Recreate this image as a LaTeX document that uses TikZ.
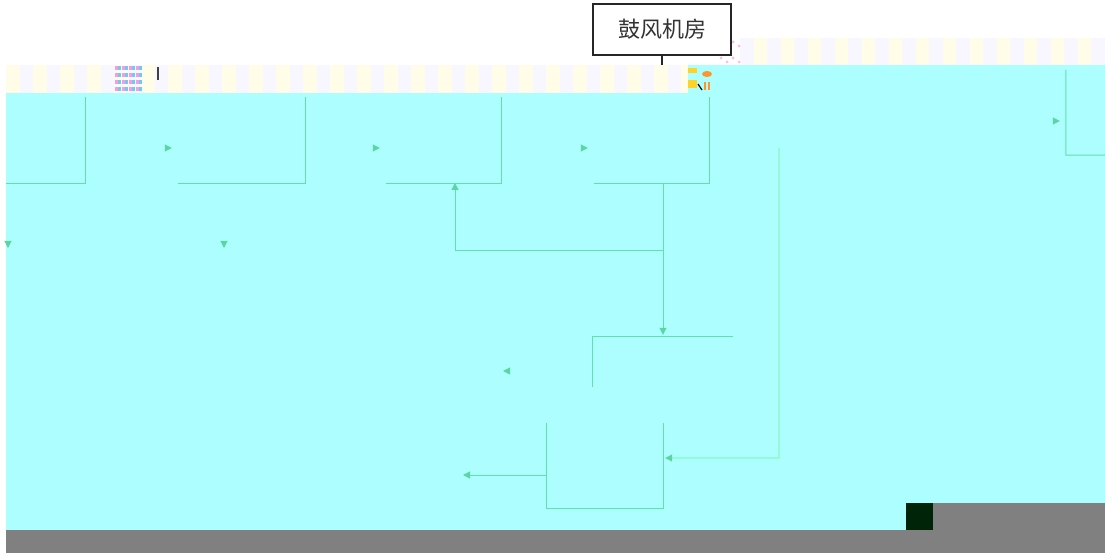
\documentclass[tikz,border=0pt]{standalone}
\usepackage{fontspec}
\newfontfamily\cjk{Noto Sans CJK SC}
\usetikzlibrary{arrows.meta}
\definecolor{cyanbg}{RGB}{173,255,255}
\definecolor{linegreen}{RGB}{100,222,170}
\definecolor{paleline}{RGB}{150,250,215}
\definecolor{tipgreen}{RGB}{90,215,160}
\definecolor{stripA}{RGB}{255,253,232}
\definecolor{stripB}{RGB}{248,247,255}
\definecolor{barGray}{RGB}{128,128,128}
\definecolor{darkSq}{RGB}{0,36,8}
\definecolor{pinkDot}{RGB}{255,150,230}
\definecolor{iconYel}{RGB}{255,210,40}
\definecolor{iconOr}{RGB}{255,150,40}
\tikzset{
  pbox/.style={rectangle, draw=none, inner sep=0pt},
  side/.style={draw=linegreen, line width=1pt},
  conn/.style={draw=linegreen, line width=1pt, -{Triangle[length=7pt,width=7pt,fill=tipgreen,color=tipgreen]}},
  paleconn/.style={draw=paleline, line width=1.2pt, -{Triangle[length=7pt,width=7pt,fill=tipgreen,color=tipgreen]}},
  ghost/.style={draw=cyanbg, line width=1pt, -{Triangle[length=7pt,width=7pt,fill=tipgreen,color=tipgreen]}},
  titlebox/.style={rectangle, draw=black!85, line width=1.3pt, fill=white, minimum width=138pt, minimum height=51pt, inner sep=0pt, font=\cjk\fontsize{22}{22}\selectfont, text=black!80}
}
\begin{document}
\begin{tikzpicture}[x=1pt,y=-1pt]
\useasboundingbox (0,0) rectangle (1105,553);
\fill[white] (0,0) rectangle (1105,553);
% backgrounds
\fill[cyanbg] (6,93) rectangle (1105,530);
\fill[cyanbg] (715,65) rectangle (1105,93);
\foreach \i in {0,...,25} {
  \fill[stripA] ({6+\i*27},65) rectangle ({6+\i*27+13.5},93);
  \fill[stripB] ({19.5+\i*27},65) rectangle ({19.5+\i*27+13.5},93);
}
\fill[cyanbg] (688,65) rectangle (715,93);
\foreach \i in {0,...,13} {
  \fill[stripB] ({740+\i*27},38) rectangle ({740+\i*27+13.5},65);
  \fill[stripA] ({753.5+\i*27},38) rectangle ({753.5+\i*27+13.5},65);
}
\fill[barGray] (6,530) rectangle (1105,553);
\fill[barGray] (933,503) rectangle (1105,530);
\fill[darkSq] (906,503) rectangle (933,530);
% artifacts
\foreach \a in {0,...,3} {\foreach \b in {0,...,3} {
  \fill[pinkDot] ({115+\a*7},{66+\b*7}) rectangle ({118+\a*7},{70+\b*7});
  \fill[cyan!60] ({118+\a*7},{66+\b*7}) rectangle ({121+\a*7},{70+\b*7});
}}
\fill[black!75] (156.5,67) rectangle (159,80);
\fill[iconYel] (688,68) rectangle (697,73);
\fill[iconOr] (707,74) ellipse (5pt and 3pt);
\fill[iconYel] (688,80) rectangle (697,88);
\fill[iconOr] (708,82) rectangle (710,90);
\fill[iconOr] (704,82) rectangle (706,90);
\draw[black, line width=1.2pt] (698,84) -- (702,90);
\foreach \a/\b in {721/42,727/46,733/42,739/46,721/58,727/62,733/58,739/62} {\fill[pinkDot!70] (\a,\b) circle (1.5pt);}
% title box
\node[titlebox] (title) at (662,29.5) {鼓风机房};
\coordinate (stub) at (662,65);
\draw[black!85, line width=1.3pt] (title.south) -- (stub);
% process boxes (only some sides visible)
\node[pbox, minimum width=79pt, minimum height=86pt] (b1) at (45.5,140) {};
\node[pbox, minimum width=127pt, minimum height=86pt] (b2) at (241.5,140) {};
\node[pbox, minimum width=115pt, minimum height=86pt] (b3) at (443.5,140) {};
\node[pbox, minimum width=115pt, minimum height=86pt] (b4) at (651.5,140) {};
\node[pbox, minimum width=80pt, minimum height=85pt] (b5) at (1106,112.5) {};
\node[pbox, minimum width=140pt, minimum height=56pt] (b6) at (663,365) {};
\node[pbox, minimum width=116pt, minimum height=85pt] (b7) at (605,465.5) {};
% connectors whose lines have faded (only heads visible), drawn first
\draw[ghost, shorten >=6pt] (b1.east |- 0,148) -- (b2.west |- 0,148);
\draw[ghost, shorten >=6pt] (b2.east |- 0,148) -- (b3.west |- 0,148);
\draw[ghost, shorten >=6pt] (b3.east |- 0,148) -- (b4.west |- 0,148);
\coordinate (src5) at (990,121);
\draw[ghost, shorten >=6pt] (src5) -- (b5.west |- src5);
\coordinate (d1) at (8,248);
\coordinate (d2) at (224,248);
\draw[ghost] (b1.south -| d1) -- (d1);
\draw[ghost] (b2.south -| d2) -- (d2);
\coordinate (l6) at (503,371);
\draw[ghost] (b6.west |- l6) -- (l6);
% box sides
\draw[side] (b1.north east) -- (b1.south east) -- (b1.south west);
\draw[side] (b2.north east) -- (b2.south east) -- (b2.south west);
\draw[side] (b3.north east) -- (b3.south east) -- (b3.south west);
\draw[side] (b4.north east) -- (b4.south east) -- (b4.south west);
\draw[side] (b5.north west) -- (b5.south west) -- (1105,155);
\draw[side] (b6.north east) -- (b6.north west) -- ([yshift=-22pt]b6.west);
\draw[side] (b7.north west) -- (b7.south west) -- (b7.south east) -- (b7.north east);
% visible connectors
\coordinate (jn) at (663,251);
\draw[side] (b4.south -| jn) -- (jn);
\draw[conn, shorten >=2pt] (jn) -- (b6.north -| jn);
\draw[conn] (jn) -| (455,183);
\coordinate (l7) at (463,475);
\draw[conn] (b7.west |- l7) -- (l7);
\coordinate (r4) at (779,148);
\draw[paleconn, shorten >=2pt] (r4) |- (b7.east |- 0,458);
\end{tikzpicture}
\end{document}
